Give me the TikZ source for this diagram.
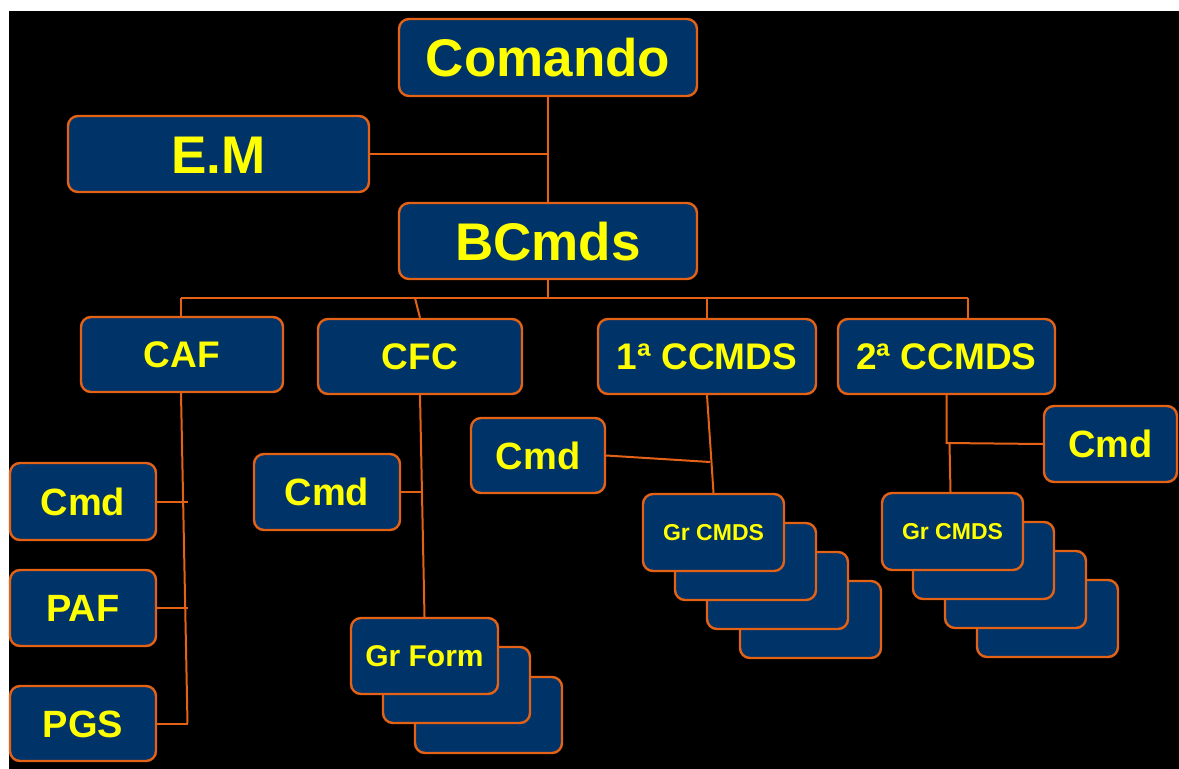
\documentclass[tikz,border=0pt]{standalone}
\usepackage{fontspec}
\setmainfont{Liberation Sans}
\definecolor{boxedge}{RGB}{228,98,22}
\definecolor{navyfill}{RGB}{0,52,104}
\definecolor{txtyellow}{RGB}{255,255,0}
\begin{document}
\begin{tikzpicture}[x=1pt,y=-1pt,
  box/.style={draw=boxedge,line width=2.4pt,fill=navyfill,rounded corners=10pt,inner sep=0pt,text=txtyellow,text depth=0pt},
  bigtxt/.style={font=\fontsize{53}{60}\selectfont\bfseries,text height=38pt},
  midtxt/.style={font=\fontsize{37}{42}\selectfont\bfseries,text height=26.5pt},
  cmdtxt/.style={font=\fontsize{38}{42}\selectfont\bfseries,text height=27pt},
  formtxt/.style={font=\fontsize{30}{34}\selectfont\bfseries,text height=21.5pt},
  grtxt/.style={font=\fontsize{23}{26}\selectfont\bfseries,text height=16.5pt},
  link/.style={draw=boxedge,line width=2pt}]
\fill[white] (0,0) rectangle (1179,769);
\fill[black] (9,11) rectangle (1179,769);
\useasboundingbox (0,0) rectangle (1179,769);

% top levels
\node[box,bigtxt,minimum width=298,minimum height=77] (com) at (548,57.5) {Comando};
\node[box,bigtxt,minimum width=301,minimum height=76] (em) at (218.5,154) {E.M};
\node[box,bigtxt,minimum width=298,minimum height=76] (bc) at (548,241) {BCmds};

% second level
\node[box,midtxt,minimum width=202,minimum height=75] (caf) at (182,354.5) {CAF};
\node[box,midtxt,minimum width=204,minimum height=75] (cfc) at (420,356.5) {CFC};
\node[box,midtxt,minimum width=218,minimum height=75] (c1) at (707,356.5) {1ª CCMDS};
\node[box,midtxt,minimum width=217,minimum height=75] (c2) at (946.5,356.5) {2ª CCMDS};

% CAF column
\node[box,cmdtxt,minimum width=146,minimum height=77] (cmdA) at (83,501.5) {Cmd};
\node[box,cmdtxt,minimum width=146,minimum height=76] (paf) at (83,608) {PAF};
\node[box,cmdtxt,minimum width=146,minimum height=75] (pgs) at (83,723.5) {PGS};

% CFC column
\node[box,cmdtxt,minimum width=146,minimum height=76] (cmdB) at (327,492) {Cmd};
\node[box,minimum width=147,minimum height=76] (grf3) at (488.5,715) {};
\node[box,minimum width=147,minimum height=76] (grf2) at (456.5,685) {};
\node[box,formtxt,minimum width=147,minimum height=76] (grf1) at (424.5,656) {Gr Form};

% 1a CCMDS column
\node[box,cmdtxt,minimum width=134,minimum height=75] (cmdC) at (538,455.5) {Cmd};
\node[box,minimum width=141,minimum height=77] (g1d) at (810.5,619.5) {};
\node[box,minimum width=141,minimum height=77] (g1c) at (777.5,590.5) {};
\node[box,minimum width=141,minimum height=77] (g1b) at (745.5,561.5) {};
\node[box,grtxt,minimum width=141,minimum height=77] (g1a) at (713.5,532.5) {Gr CMDS};

% 2a CCMDS column
\node[box,cmdtxt,minimum width=133,minimum height=76] (cmdD) at (1110.5,444) {Cmd};
\node[box,minimum width=141,minimum height=77] (g2d) at (1047.5,618.5) {};
\node[box,minimum width=141,minimum height=77] (g2c) at (1015.5,589.5) {};
\node[box,minimum width=141,minimum height=77] (g2b) at (983.5,560.5) {};
\node[box,grtxt,minimum width=141,minimum height=77] (g2a) at (952.5,531.5) {Gr CMDS};

% connectors
\coordinate (barL) at (181,298);
\coordinate (barR) at (968,298);
\coordinate (cfcTop) at (415,298);
\coordinate (cafEnd) at (187.5,723.5);
\coordinate (c1tie) at (710,462);
\coordinate (j2) at (946.5,443);

\draw[link] (com.south) -- (bc.north);
\draw[link] (em.east) -- (em.east -| com.south);
\draw[link] (bc.south) -- (bc.south |- barL);
\draw[link] (barL) -- (barR);
\draw[link] (barL) -- (barL |- caf.north);
\draw[link] (cfcTop) -- (cfc.north);
\draw[link] (c1.north |- barL) -- (c1.north);
\draw[link] (barR) -- (barR |- c2.north);

\draw[link] ([xshift=-1]caf.south) -- (cafEnd);
\draw[link] (cmdA.east) -- (cmdA.east -| cafEnd);
\draw[link] (paf.east) -- (paf.east -| cafEnd);
\draw[link] (pgs.east) -- (cafEnd);

\draw[link] (cfc.south) -- (grf1.north);
\draw[link] (cmdB.east) -- ([xshift=2]cmdB.east -| cfc.south);

\draw[link] (c1.south) -- (g1a.north);
\draw[link] (cmdC.east) -- (c1tie);

\draw[link] (c2.south) -- (j2) -- (cmdD.west);
\draw[link] ([xshift=3]j2) -- ([xshift=-2]g2a.north);
\end{tikzpicture}
\end{document}
